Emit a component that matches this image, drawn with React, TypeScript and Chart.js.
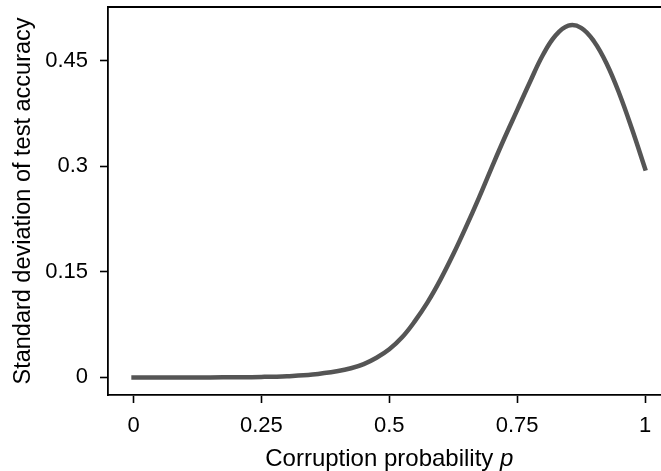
import React, { useEffect, useRef } from "react";
import { Chart, registerables } from "chart.js";

Chart.register(...registerables);

const pValues = [0, 0.05, 0.1, 0.15, 0.2, 0.25, 0.3, 0.35, 0.4, 0.425, 0.45, 0.475, 0.5, 0.525, 0.55, 0.575, 0.6, 0.625, 0.65, 0.675, 0.7, 0.725, 0.75, 0.775, 0.8, 0.825, 0.85, 0.875, 0.9, 0.925, 0.95, 0.975, 1.0];
const stdValues = [0, 0, 0, 0, 0.0002, 0.0007, 0.0018, 0.004, 0.009, 0.013, 0.019, 0.028, 0.04, 0.057, 0.08, 0.107, 0.139, 0.175, 0.214, 0.255, 0.298, 0.34, 0.38, 0.42, 0.458, 0.486, 0.5, 0.497, 0.478, 0.446, 0.403, 0.352, 0.297];

const xTicks = [0, 0.25, 0.5, 0.75, 1];
const xTickLabels = ["0", "0.25", "0.5", "0.75", "1"];
const yTicks = [0, 0.15, 0.3, 0.45];
const yTickLabels = ["0", "0.15", "0.3", "0.45"];

const xTitle = "Corruption probability ";
const xTitleVar = "p";
const yTitle = "Standard deviation of test accuracy";

const FONT = "'Liberation Sans', Arial, sans-serif";
const TITLE_SIZE = 24;
const Y_TITLE_SIZE = 23.5;
const TICK_SIZE = 22;

const titlesPlugin = {
  id: "titlesPlugin",
  afterDraw(chart: any) {
    const { ctx, chartArea } = chart;
    ctx.save();
    // top spine
    ctx.strokeStyle = "#000";
    ctx.lineWidth = 1.8;
    ctx.beginPath();
    ctx.moveTo(chartArea.left - 0.9, chartArea.top);
    ctx.lineTo(chartArea.right, chartArea.top);
    ctx.stroke();

    ctx.fillStyle = "#000";
    // x title
    ctx.textBaseline = "alphabetic";
    ctx.textAlign = "left";
    const normalFont = `${TITLE_SIZE}px ${FONT}`;
    const italicFont = `italic ${TITLE_SIZE}px ${FONT}`;
    ctx.font = normalFont;
    const w1 = ctx.measureText(xTitle).width;
    ctx.font = italicFont;
    const w2 = ctx.measureText(xTitleVar).width;
    const cx = (chartArea.left + chartArea.right) / 2;
    const startX = cx - (w1 + w2) / 2;
    ctx.font = normalFont;
    ctx.fillText(xTitle, startX, 466);
    ctx.font = italicFont;
    ctx.fillText(xTitleVar, startX + w1, 466);

    // y title
    ctx.font = `${Y_TITLE_SIZE}px ${FONT}`;
    ctx.translate(30, 201);
    ctx.rotate(-Math.PI / 2);
    ctx.textAlign = "center";
    ctx.fillText(yTitle, 0, 0);
    ctx.restore();
  },
};

export default function App() {
  const canvasRef = useRef<HTMLCanvasElement | null>(null);

  useEffect(() => {
    document.body.style.margin = "0";
    const canvas = canvasRef.current;
    if (!canvas) return;
    const data = pValues.map((p, i) => ({ x: p, y: stdValues[i] }));
    const chart = new Chart(canvas, {
      type: "line",
      data: {
        datasets: [
          {
            data,
            borderColor: "#555555",
            borderWidth: 4.5,
            pointRadius: 0,
            fill: false,
            tension: 0.4,
            borderCapStyle: "square",
            borderJoinStyle: "round",
          },
        ],
      },
      options: {
        animation: false,
        responsive: false,
        devicePixelRatio: 1,
        layout: { padding: { top: 7, right: 9.4, left: 0, bottom: 0 } },
        plugins: { legend: { display: false }, tooltip: { enabled: false } },
        scales: {
          x: {
            type: "linear",
            min: -0.05,
            max: 1.05,
            afterBuildTicks: (s: any) => {
              s.ticks = xTicks.map((v) => ({ value: v }));
            },
            afterFit: (s: any) => {
              s.height = 76;
              s.paddingLeft = 0;
              s.paddingRight = 0;
            },
            ticks: {
              callback: (v: any) => {
                const i = xTicks.indexOf(Number(v));
                return i >= 0 ? xTickLabels[i] : "";
              },
              font: { family: FONT, size: TICK_SIZE },
              color: "#000",
              padding: 10,
              maxRotation: 0,
              autoSkip: false,
            },
            grid: {
              drawOnChartArea: false,
              drawTicks: true,
              tickLength: 8,
              tickColor: "#000",
              tickWidth: 1.6,
            },
            border: { color: "#000", width: 1.8 },
          },
          y: {
            type: "linear",
            min: -0.025,
            max: 0.5266,
            afterBuildTicks: (s: any) => {
              s.ticks = yTicks.map((v) => ({ value: v }));
            },
            afterFit: (s: any) => {
              s.width = 108;
              s.paddingTop = 0;
              s.paddingBottom = 0;
            },
            ticks: {
              callback: (v: any) => {
                const i = yTicks.indexOf(Number(v));
                return i >= 0 ? yTickLabels[i] : "";
              },
              font: { family: FONT, size: TICK_SIZE },
              color: "#000",
              padding: 12,
              autoSkip: false,
            },
            grid: {
              drawOnChartArea: false,
              drawTicks: true,
              tickLength: 8,
              tickColor: "#000",
              tickWidth: 1.6,
            },
            border: { color: "#000", width: 1.8 },
          },
        },
      },
      plugins: [titlesPlugin],
    });
    return () => chart.destroy();
  }, []);

  return (
    <div style={{ position: "fixed", left: 0, top: 0, width: 661, height: 471, overflow: "hidden", background: "#fff" }}>
      <canvas ref={canvasRef} width={680} height={471} style={{ width: 680, height: 471, display: "block" }} />
    </div>
  );
}
